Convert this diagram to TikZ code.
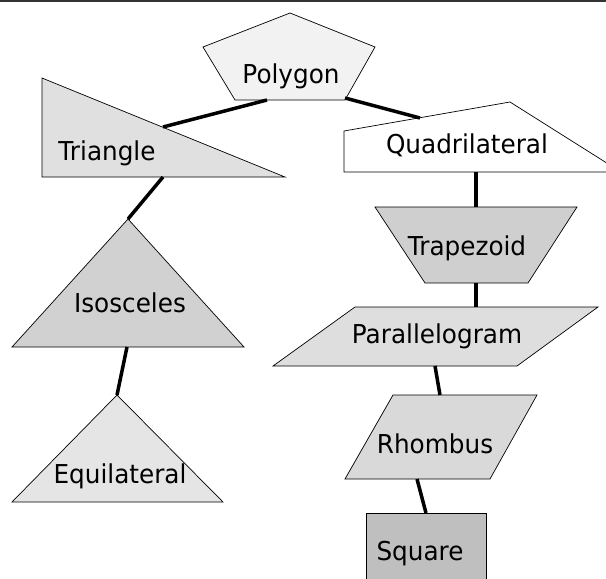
\documentclass[tikz,border=0pt]{standalone}
\usepackage{fontspec}
\setmainfont[FakeStretch=0.95]{DejaVu Sans}
\usetikzlibrary{positioning}

\begin{document}
\begin{tikzpicture}[x=1pt, y=-1pt,
    outline/.style={draw, line width=0.7pt},
    link/.style={line width=3.5pt},
    txt/.style={font=\fontsize{26}{30}\selectfont, anchor=base, inner sep=0pt},
]
    \useasboundingbox (0,0) rectangle (606,579);
    \clip (0,0) rectangle (606,579);
    \draw[line width=2pt, black!80] (0,1) -- (606,1);

    % Shapes
    \draw[outline, fill=black!5]  (290,13) -- (375,47) -- (345,100) -- (235,100) -- (203,47) -- cycle;
    \draw[outline, fill=black!12] (42,78) -- (285,177) -- (42,177) -- cycle;
    \draw[outline, fill=white]    (344,172) -- (344,131) -- (510,102) -- (621,172) -- cycle;
    \draw[outline, fill=black!18] (128,219) -- (244,347) -- (12,347) -- cycle;
    \draw[outline, fill=black!10] (117,395) -- (223,502) -- (12,502) -- cycle;
    \draw[outline, fill=black!19] (375,207) -- (577,207) -- (528,283) -- (425,283) -- cycle;
    \draw[outline, fill=black!13] (355,307) -- (598,307) -- (517,366) -- (273,366) -- cycle;
    \draw[outline, fill=black!15] (393,395) -- (537,395) -- (490,479) -- (345,479) -- cycle;
    \draw[outline, fill=black!25] (366,513) rectangle (486,600);

    % Labels
    \node[txt] (polygon)  at (291,83)  {Polygon};
    \node[txt] (triangle) at (107,160) {Triangle};
    \node[txt] (quad)     at (467,153) {Quadrilateral};
    \node[txt] (isos)     at (130,312) {Isosceles};
    \node[txt] (equi)     at (120,483) {Equilateral};
    \node[txt] (trap)     at (467,255) {Trapezoid};
    \node[txt] (para)     at (437,343) {Parallelogram};
    \node[txt] (rhomb)    at (435,453) {Rhombus};
    \node[txt] (square)   at (420,560) {Square};

    % Connector ends
    \coordinate (poly-l)   at (267,100);
    \coordinate (poly-r)   at (345,98);
    \coordinate (tri-t)    at (163,127);
    \coordinate (tri-b)    at (163,177);
    \coordinate (quad-t)   at (420,118);
    \coordinate (quad-b)   at (476,172);
    \coordinate (isos-t)   at (128,219);
    \coordinate (isos-b)   at (127,347);
    \coordinate (equi-t)   at (117,395);
    \coordinate (trap-t)   at (476,207);
    \coordinate (trap-b)   at (476,283);
    \coordinate (para-t)   at (476,307);
    \coordinate (para-b)   at (435,366);
    \coordinate (rhomb-t)  at (440,395);
    \coordinate (rhomb-b)  at (417,479);
    \coordinate (square-t) at (426,513);

    % Links
    \draw[link] (poly-l)  -- (tri-t);
    \draw[link] (poly-r)  -- (quad-t);
    \draw[link] (tri-b)   -- (isos-t);
    \draw[link] (isos-b)  -- (equi-t);
    \draw[link] (quad-b)  -- (trap-t);
    \draw[link] (trap-b)  -- (para-t);
    \draw[link] (para-b)  -- (rhomb-t);
    \draw[link] (rhomb-b) -- (square-t);
\end{tikzpicture}
\end{document}
